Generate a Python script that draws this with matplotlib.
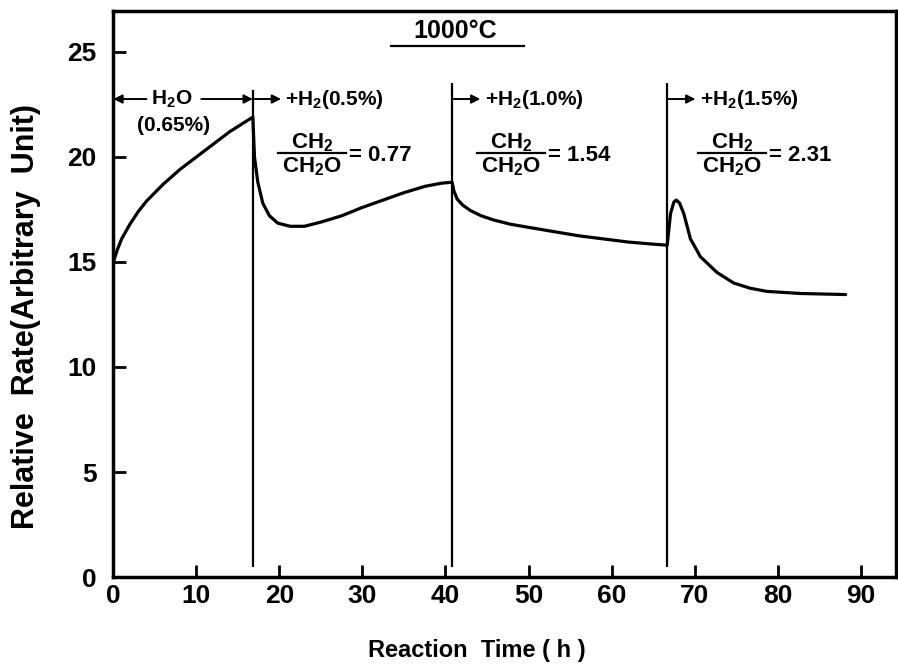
import numpy as np
import matplotlib.pyplot as plt

plt.rcParams['font.family'] = ['Liberation Sans', 'DejaVu Sans']
plt.rcParams['font.weight'] = 'bold'
plt.rcParams['axes.labelweight'] = 'bold'

# reaction time (h) and relative rate for each gas stage
t_h2o = [0, 0.5, 1, 2, 3, 4, 6, 8, 10, 12, 14, 16, 16.8]
r_h2o = [15.0, 15.6, 16.1, 16.8, 17.4, 17.9, 18.7, 19.4, 20.0, 20.6, 21.2, 21.7, 21.9]

t_h2_05 = [16.8, 17.0, 17.4, 18.0, 18.8, 19.8, 21.3, 23, 25, 27.5, 30, 32.5, 35, 37.5, 39.5, 40.8]
r_h2_05 = [21.9, 20.0, 18.8, 17.8, 17.2, 16.85, 16.7, 16.7, 16.9, 17.2, 17.6, 17.95, 18.3, 18.6, 18.75, 18.8]

t_h2_10 = [40.8, 41.0, 41.4, 42.1, 43.0, 44.3, 45.8, 47.8, 50, 53, 56, 59, 62, 65, 66.7]
r_h2_10 = [18.8, 18.4, 18.0, 17.7, 17.45, 17.2, 17.0, 16.8, 16.65, 16.45, 16.25, 16.1, 15.95, 15.85, 15.8]

t_h2_15 = [66.7, 67.1, 67.5, 67.8, 68.2, 68.7, 69.5, 70.7, 72.7, 74.7, 76.7, 78.7, 82.8, 88.2]
r_h2_15 = [15.75, 17.3, 17.85, 17.95, 17.8, 17.3, 16.1, 15.25, 14.5, 14.0, 13.75, 13.6, 13.5, 13.45]

switch_t = [16.8, 40.8, 66.7]
switch_top = [23.2, 23.5, 23.5]

h2_labels = ['+H$_\\mathregular{2}$(0.5%)', '+H$_\\mathregular{2}$(1.0%)', '+H$_\\mathregular{2}$(1.5%)']
ratios = ['0.77', '1.54', '2.31']

t = np.concatenate([t_h2o, t_h2_05[1:], t_h2_10[1:], t_h2_15[1:]])
r = np.concatenate([r_h2o, r_h2_05[1:], r_h2_10[1:], r_h2_15[1:]])

fig = plt.figure(figsize=(8.98, 6.64), dpi=100)
ax = fig.add_axes([0.1262, 0.131, 0.872, 0.8524])

ax.plot(t, r, color='black', lw=2.3, solid_capstyle='round')
ax.vlines(switch_t, 0.5, switch_top, color='black', lw=1.6)

ax.set_xlim(0, 94.3)
ax.set_ylim(0, 26.95)
ax.set_xticks(range(0, 91, 10))
ax.set_yticks(range(0, 26, 5))
for s in ax.spines.values():
    s.set_linewidth(2.5)
ax.tick_params(direction='in', length=9, width=2, labelsize=19)
ax.tick_params(axis='y', pad=12)
ax.tick_params(axis='x', pad=5)

ax.set_xlabel('Reaction  Time ( h )', fontsize=17, va='center')
ax.set_ylabel('Relative  Rate(Arbitrary  Unit)', fontsize=22, va='center')
ax.xaxis.set_label_coords(0.464, -0.129)
ax.yaxis.set_label_coords(-0.112, 0.46)


def arrow(x0, x1, y):
    ax.annotate('', xy=(x1, y), xytext=(x0, y),
                arrowprops=dict(arrowstyle='-|>', color='black', lw=1.4,
                                mutation_scale=13, shrinkA=0, shrinkB=0))


# temperature heading
ax.text(41.2, 26.0, '1000°C', ha='center', va='center', fontsize=18)
ax.plot([33.4, 49.4], [25.3, 25.3], color='black', lw=1.6)

# H2O-only stage
arrow_y = 22.76
arrow(4.0, 0, arrow_y)
arrow(10.6, switch_t[0], arrow_y)
ax.text(7.0, arrow_y, 'H$_\\mathregular{2}$O', ha='center', va='center', fontsize=15)
ax.text(7.3, 21.5, '(0.65%)', ha='center', va='center', fontsize=15)

# hydrogen additions
frac_x = [19.8, 43.8, 70.4]
frac_w = 8.2
for x, lab, ratio, fx in zip(switch_t, h2_labels, ratios, frac_x):
    arrow(x, x + 3.4, arrow_y)
    ax.text(x + 3.9, arrow_y, lab, ha='left', va='center', fontsize=15)
    ax.text(fx + frac_w / 2, 20.67, 'CH$_\\mathregular{2}$', ha='center', va='center', fontsize=16)
    ax.plot([fx, fx + frac_w], [20.19, 20.19], color='black', lw=1.6)
    ax.text(fx + frac_w / 2, 19.52, 'CH$_\\mathregular{2}$O', ha='center', va='center', fontsize=16)
    ax.text(fx + frac_w + 0.4, 20.05, '= ' + ratio, ha='left', va='center', fontsize=16)

fig.savefig('out.png', dpi=100)
